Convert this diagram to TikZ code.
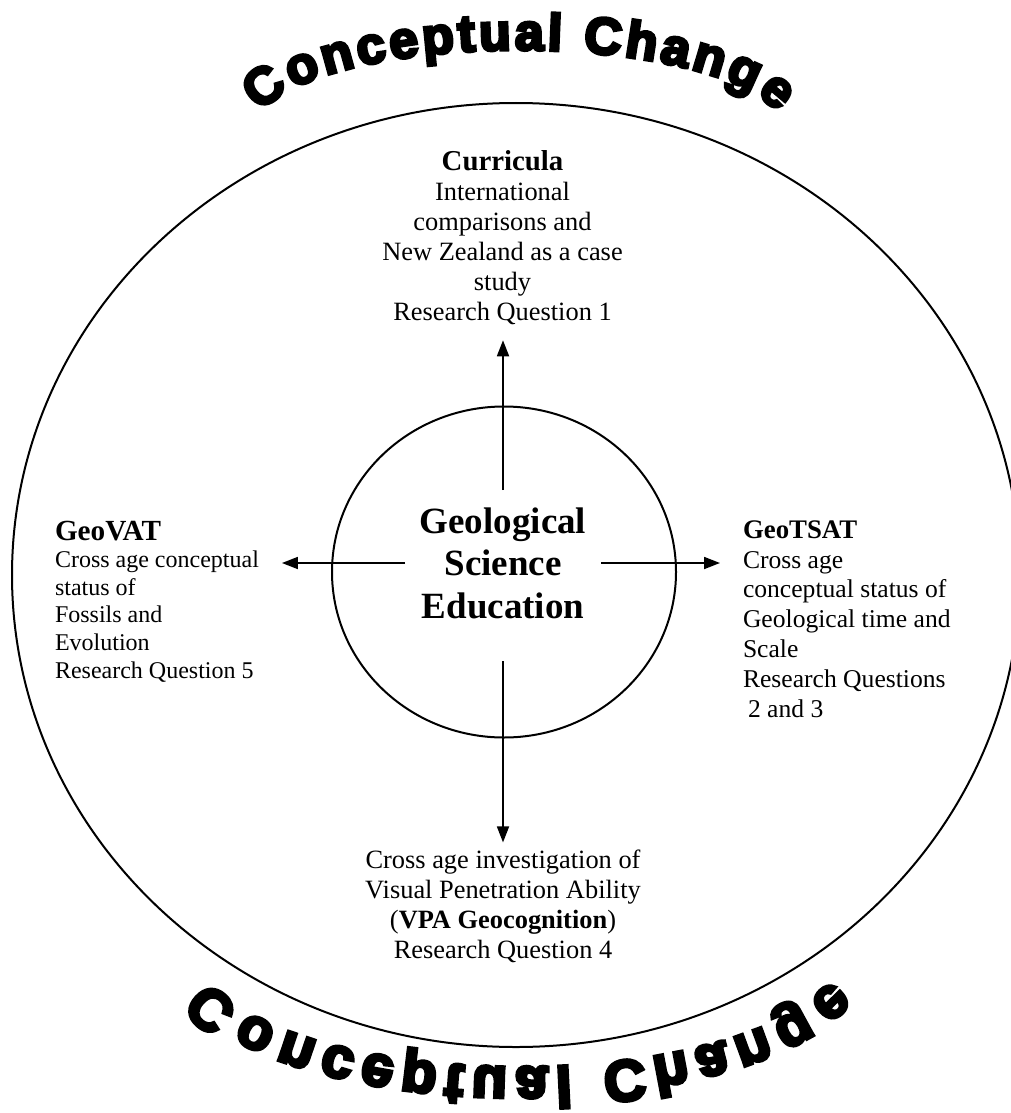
\documentclass[tikz,border=0pt]{standalone}
\usepackage{fontspec}
\setmainfont{Liberation Serif}
\newfontface\archface{Liberation Sans Bold}[FakeBold=6]
\usetikzlibrary{arrows.meta,shapes.geometric,decorations.text}

% heavy lettering for the curved banner words
\newcommand\toparch{\fontsize{26}{26}\selectfont\archface}
\newcommand\botarch{\fontsize{29}{29}\selectfont\archface}

\begin{document}
\begin{tikzpicture}[x=0.5pt,y=0.5pt,
  ring/.style={draw, line width=1pt},
  arr/.style={-{Triangle[length=8pt,width=6pt]}, line width=0.9pt},
  block/.style={inner sep=0pt, outer sep=0pt},
]
\useasboundingbox (0,0) rectangle (1011,-1113);

% outer boundary and inner core
\draw[ring] (516,-575) ellipse [x radius=504, y radius=472];
\node[ring, ellipse, minimum width=172pt, minimum height=165.5pt, inner sep=0pt] (core) at (504,-572) {};
\node[block, align=center, minimum width=98pt, minimum height=73pt,
      font=\fontsize{18.5}{21.25}\selectfont\bfseries] (title) at (503,-563)
      {Geological\\Science\\Education};

% the four research strands (anchored on the baseline of their last line)
\node[block, align=center, anchor=base, font=\fontsize{13.2}{15}\selectfont] (curr) at (502.5,-320)
  {{\fontsize{14.4}{15}\selectfont\bfseries Curricula}\\International\\comparisons and\\New Zealand as a case\\study\\Research Question 1};
\node[block, align=left, anchor=base west, font=\fontsize{12}{13.8}\selectfont] (vat) at (55,-678)
  {{\fontsize{14.6}{13.8}\selectfont\bfseries GeoVAT}\\Cross age conceptual\\status of\\Fossils and\\Evolution\\Research Question 5};
\node[block, align=left, anchor=base west, font=\fontsize{12.8}{14.9}\selectfont] (tsat) at (743,-717)
  {{\fontsize{13.4}{14.9}\selectfont\bfseries GeoTSAT}\\Cross age\\conceptual status of\\Geological time and\\Scale\\Research Questions\\\hspace{2.5pt}2 and 3};
\node[block, align=center, anchor=base, font=\fontsize{13.2}{15}\selectfont] (vpa) at (503,-958)
  {Cross age investigation of\\Visual Penetration Ability\\(\textbf{VPA Geocognition})\\Research Question 4};

% connectors
\draw[arr, shorten >=8pt] (title.north) -- (title.north |- curr.south);
\draw[arr, shorten <=12.5pt, shorten >=3.5pt] (title.south) -- (title.south |- vpa.north);
\draw[arr, shorten >=11.5pt] (title.west) -- (title.west -| vat.east);
\draw[arr, shorten >=11.5pt] (title.east) -- (title.east -| tsat.west);

% curved banner above and its reflection below
\path[decorate, decoration={text along path, text align={fit to path},
      text={|\toparch|Conceptual Change}}]
  (519,-130) ++(168:264 and 80) arc[start angle=168, end angle=12, x radius=264, y radius=80];
\path[decorate, decoration={text along path, mirror, text align={fit to path},
      text={|\botarch|Conceptual Change}}]
  (520,-951) ++(194:320 and 116) arc[start angle=194, end angle=346, x radius=320, y radius=116];
\end{tikzpicture}
\end{document}
